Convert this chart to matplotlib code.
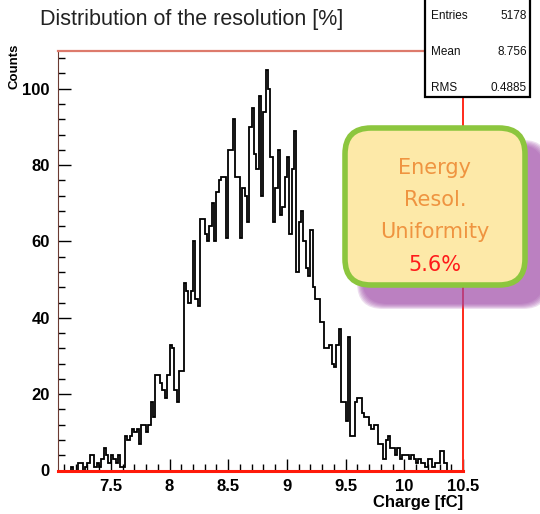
import numpy as np
import matplotlib.pyplot as plt
from matplotlib.patches import FancyBboxPatch, Rectangle
from matplotlib.transforms import IdentityTransform
from matplotlib.ticker import MultipleLocator

# histogram of charge, bin width 0.02 fC starting at 7.06
bin_start = 7.06
bin_width = 0.02
counts = [
    0, 0, 0, 0, 0, 1, 0, 0, 2, 2,
    0, 1, 2, 4, 4, 1, 2, 1, 3, 6,
    4, 2, 4, 3, 2, 4, 1, 1, 9, 8,
    9, 11, 10, 11, 7, 12, 12, 10, 12, 18,
    14, 25, 25, 23, 21, 19, 25, 33, 32, 21,
    18, 26, 26, 49, 47, 44, 47, 60, 45, 43,
    66, 66, 62, 60, 64, 70, 60, 73, 76, 77,
    77, 61, 84, 84, 92, 77, 77, 61, 74, 72,
    65, 90, 95, 83, 79, 98, 72, 94, 105, 100,
    82, 65, 74, 84, 67, 69, 77, 82, 62, 79,
    89, 52, 65, 68, 60, 53, 51, 63, 48, 45,
    45, 39, 39, 32, 32, 33, 28, 27, 33, 37,
    18, 18, 13, 35, 9, 9, 18, 19, 19, 15,
    14, 14, 12, 11, 12, 12, 7, 7, 3, 8,
    9, 6, 6, 4, 6, 3, 4, 4, 4, 3,
    4, 3, 2, 3, 2, 2, 1, 3, 3, 1,
    2, 2, 5, 5, 2, 0, 0, 0, 0, 0,
    0, 0,
]
x_range = (7.05, 10.5)
y_range = (0, 110)

title = "Distribution of the resolution [%]"
x_label = "Charge [fC]"
y_label = "Counts"
stat_names = ["Entries", "Mean", "RMS"]
stat_values = ["5178", "8.756", "0.4885"]
note_lines = ["Energy", "Resol.", "Uniformity"]
note_value = "5.6%"

W, H = 540, 514
fig = plt.figure(figsize=(W / 100, H / 100), dpi=100)
ax = fig.add_axes([58 / W, 1 - 470.5 / H, (463 - 58) / W, (470.5 - 50.5) / H])

edges = bin_start + bin_width * np.arange(len(counts) + 1)
ax.stairs(counts, edges, color="black", linewidth=1.3, baseline=0)

ax.set_xlim(*x_range)
ax.set_ylim(*y_range)
ax.xaxis.set_major_locator(MultipleLocator(0.5))
ax.xaxis.set_minor_locator(MultipleLocator(0.1))
ax.yaxis.set_major_locator(MultipleLocator(20))
ax.yaxis.set_minor_locator(MultipleLocator(4))
ax.tick_params(which="both", direction="in", top=False, right=False, width=1)
ax.tick_params(which="major", length=9, labelsize=12, pad=6)
ax.tick_params(which="minor", length=5)
ax.set_xticks([7.5, 8, 8.5, 9, 9.5, 10, 10.5])
ax.set_xticklabels(["7.5", "8", "8.5", "9", "9.5", "10", "10.5"])
for lab in ax.get_xticklabels() + ax.get_yticklabels():
    lab.set_fontweight("bold")
    lab.set_family("Liberation Sans")

ax.spines["left"].set_color("#6b3a32")
ax.spines["top"].set_color("#dd7a6c")
ax.spines["right"].set_color("#ff2a1a")
ax.spines["bottom"].set_color("#ff1a0a")
ax.spines["bottom"].set_linewidth(2.2)
ax.spines["right"].set_linewidth(1.4)
ax.spines["top"].set_linewidth(1.6)

tr = IdentityTransform()

# axis labels
fig.text(463 / W, 1 - 503 / H, x_label, ha="right", va="center",
         fontsize=12, fontweight="bold", family="Liberation Sans")
fig.text(15 / W, 1 - 44 / H, y_label, rotation=90, ha="center", va="top",
         fontsize=9.5, fontweight="bold", family="Liberation Sans")

# title
fig.text(40 / W, 1 - 19 / H, title, ha="left", va="center",
         fontsize=15.5, color="#222222", family="Liberation Sans")

# stats box
sb_left, sb_right, sb_bottom = 425, 530, H - 97
fig.patches.append(Rectangle((sb_left, sb_bottom), sb_right - sb_left, 110,
                             transform=tr, facecolor="white",
                             edgecolor="black", linewidth=1.6, zorder=5))
for i, (nm, val) in enumerate(zip(stat_names, stat_values)):
    yy = H - (16 + 36 * i)
    fig.text((sb_left + 6) / W, yy / H, nm, ha="left", va="center",
             fontsize=8.5, family="Liberation Sans", color="#111111", zorder=6)
    fig.text((sb_right - 3) / W, yy / H, val, ha="right", va="center",
             fontsize=8.5, family="Liberation Sans", color="#111111", zorder=6)

# callout box with soft purple shadow, offset to the lower right
bx0, bx1, by_top, by_bot = 345, 525, 128, 285
bw, bh = bx1 - bx0, by_bot - by_top
for k in range(6):
    grow = 6 - k
    fig.patches.append(FancyBboxPatch(
        (bx0 + 18 - grow, H - by_bot - 18 - grow), bw + 2 * grow, bh + 2 * grow,
        boxstyle="round,pad=0,rounding_size=26", transform=tr,
        facecolor="#a04aa8", edgecolor="none", alpha=0.18, zorder=7))
fig.patches.append(FancyBboxPatch(
    (bx0, H - by_bot), bw, bh, boxstyle="round,pad=0,rounding_size=26",
    transform=tr, facecolor="#fde9a8", edgecolor="#8cc63e", linewidth=4,
    zorder=8))
cx = (bx0 + bx1) / 2
for i, line in enumerate(note_lines):
    fig.text(cx / W, 1 - (168 + 32 * i) / H, line, ha="center", va="center",
             fontsize=15, color="#ef9440", zorder=9)
fig.text(cx / W, 1 - 265 / H, note_value, ha="center", va="center",
         fontsize=15, color="#ff1a1a", zorder=9)

fig.savefig("out.png", dpi=100)
